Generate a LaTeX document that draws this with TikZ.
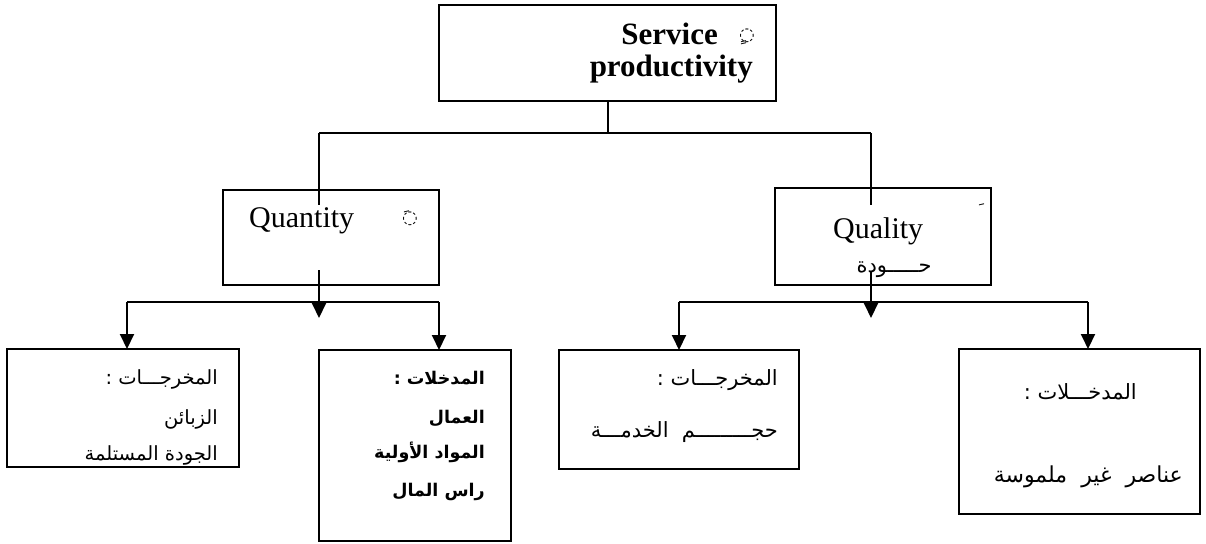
\documentclass[tikz,border=0pt]{standalone}
\usepackage{fontspec}
\setmainfont{Liberation Serif}
\newfontfamily\arabicfont[Script=Arabic]{DejaVu Sans}
\TeXXeTstate=1
\usetikzlibrary{arrows.meta}

\tikzset{
  box/.style={draw, line width=1.5pt, inner sep=0pt},
  link/.style={line width=1.5pt},
  flow/.style={line width=2pt, -{Triangle[length=15pt,width=14pt]}},
  latin/.style={inner sep=0pt, font=\fontsize{30}{32}\selectfont},
  ar/.style={inner sep=0pt, font=\arabicfont\fontsize{19.5}{22}\selectfont},
  arbig/.style={inner sep=0pt, font=\arabicfont\fontsize{21}{24}\selectfont},
  arbold/.style={inner sep=0pt, font=\arabicfont\bfseries\fontsize{17.5}{20}\selectfont},
  diacritic/.style={inner sep=0pt, font=\arabicfont\fontsize{18}{20}\selectfont}
}

\begin{document}
\begin{tikzpicture}[x=1pt,y=-1pt]
\useasboundingbox (0,0) rectangle (1206,543);

% boxes
\path[box] (439,5) rectangle (776,101);
\coordinate (topS) at (608,101);
\path[box] (223,190) rectangle (439,285);
\path[box] (775,188) rectangle (991,285);
\path[box] (7,349) rectangle (239,467);
\path[box] (319,350) rectangle (511,541);
\path[box] (559,350) rectangle (799,469);
\path[box] (959,349) rectangle (1200,514);

% top box text
\node[latin, font=\bfseries\fontsize{31}{32}\selectfont, anchor=base east] (svc) at (718,45) {Service};
\node[diacritic] (svcmark) at (747,37) {\beginR ◌ٍ\endR};
\node[latin, font=\bfseries\fontsize{31}{32}\selectfont, anchor=base east] (prod) at (753,76) {productivity};

% second level
\node[latin, anchor=base west] (qty) at (249,227) {Quantity};
\node[diacritic] (qtymark) at (410,218) {\beginR ◌َ\endR};
\node[latin, anchor=base west] (qual) at (833,238) {Quality};
\node[diacritic] (qualmark) at (977,210) {\beginR َ\endR};
\node[arbig, anchor=base] (qualar) at (894,272) {\beginR حـــــودة\endR};

% connectors from the top box
\coordinate (hub) at (608,133);
\coordinate (hubL) at (319,133);
\coordinate (hubR) at (871,133);
\coordinate (qtyIn) at (319,205);
\coordinate (qualIn) at (871,205);
\draw[link] (topS) -- (hub);
\draw[link] (hubL) -- (hubR);
\draw[link] (hubL) -- (qtyIn);
\draw[link] (hubR) -- (qualIn);

% quantity branch
\coordinate (qtyOut) at (319,270);
\coordinate (qtyTip) at (319,318);
\coordinate (qL) at (127,302);
\coordinate (qR) at (439,302);
\coordinate (aTop) at (127,349);
\coordinate (bTop) at (439,350);
\draw[flow] (qtyOut) -- (qtyTip);
\draw[line width=2pt] (qL) -- (qR);
\draw[flow] (qL) -- (aTop);
\draw[flow] (qR) -- (bTop);

% quality branch
\coordinate (qualOut) at (871,272);
\coordinate (qualTip) at (871,318);
\coordinate (rL) at (679,302);
\coordinate (rR) at (1088,302);
\coordinate (cTop) at (679,350);
\coordinate (dTop) at (1088,349);
\draw[flow] (qualOut) -- (qualTip);
\draw[line width=2pt] (rL) -- (rR);
\draw[flow] (rL) -- (cTop);
\draw[flow] (rR) -- (dTop);

% outputs (quantity)
\node[ar, anchor=base east] (a1) at (218,384) {\beginR المخرجـــات :\endR};
\node[ar, anchor=base east] (a2) at (218,424) {\beginR الزبائن\endR};
\node[ar, anchor=base east] (a3) at (218,460) {\beginR الجودة المستلمة\endR};

% inputs (quantity)
\node[arbold, anchor=base east] (b1) at (485,384) {\beginR المدخلات :\endR};
\node[arbold, anchor=base east] (b2) at (485,423) {\beginR العمال\endR};
\node[arbold, anchor=base east] (b3) at (485,458) {\beginR المواد الأولية\endR};
\node[arbold, anchor=base east] (b4) at (485,496) {\beginR راس المال\endR};

% outputs (quality)
\node[arbig, anchor=base east] (c1) at (778,385) {\beginR المخرجـــات :\endR};
\node[arbig, anchor=base east] (c2) at (778,437) {\beginR حجـــــــــم \ الخدمـــة\endR};

% inputs (quality)
\node[arbig, anchor=base east] (d1) at (1137,399) {\beginR المدخـــلات :\endR};
\node[ar, font=\arabicfont\fontsize{22}{24}\selectfont, anchor=base east] (d2) at (1183,482) {\beginR عناصر \ غير \ ملموسة\endR};
\end{tikzpicture}
\end{document}
